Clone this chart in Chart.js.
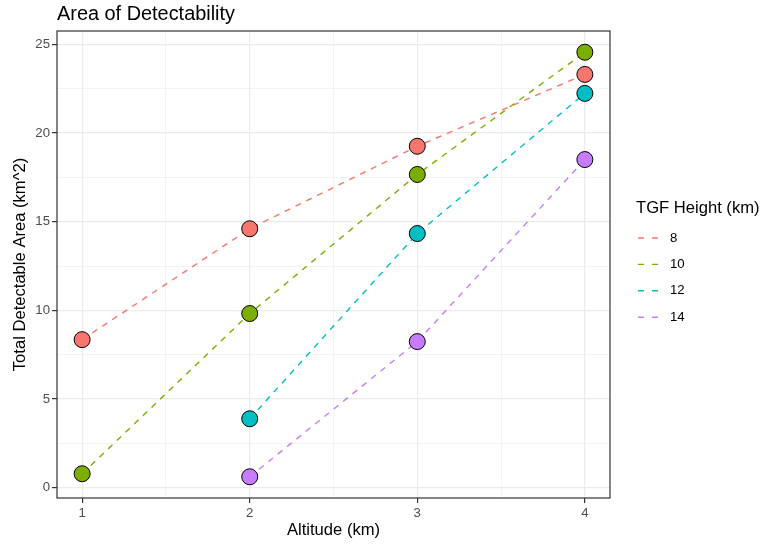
<!DOCTYPE html>
<html>
<head>
<meta charset="utf-8">
<script src="https://cdn.jsdelivr.net/npm/chart.js@4.4.1/dist/chart.umd.min.js"></script>
<style>
  html, body { margin: 0; padding: 0; background: #fff; }
  #chart { display: block; }
</style>
</head>
<body>
<canvas id="chart" width="763" height="544"></canvas>
<script>
// altitude of the detector (km) and total detectable area (km^2) per TGF source height
const altitudes = [1, 2, 3, 4];
const tgfHeights = ['8', '10', '12', '14'];
const area8  = [8.35, 14.6, 19.25, 23.3];
const area10 = [0.79, 9.82, 17.66, 24.55];
const area12 = [null, 3.89, 14.33, 22.23];
const area14 = [null, 0.62, 8.24, 18.5];
const xTicks = [1, 2, 3, 4];
const yTicks = [0, 5, 10, 15, 20, 25];

const seriesColors = ['#F8766D', '#7CAE00', '#00BFC4', '#C77CFF'];
const fontFamily = '"Liberation Sans", Arial, Helvetica, sans-serif';

const allSeries = [area8, area10, area12, area14];

function toPoints(values) {
    const pts = [];
    values.forEach((v, i) => {
        if (v !== null) pts.push({ x: altitudes[i], y: v });
    });
    return pts;
}

// ggplot style 5% expansion of the data range
function expand(lo, hi) {
    const pad = (hi - lo) * 0.05;
    return [lo - pad, hi + pad];
}
const allY = allSeries.flat().filter(v => v !== null);
const [yMin, yMax] = expand(Math.min(...allY), Math.max(...allY));
const [xMin, xMax] = expand(Math.min(...altitudes), Math.max(...altitudes));

// major ticks plus minor lines half way between them
function withMinor(major) {
    const out = [];
    major.forEach((v, i) => {
        out.push(v);
        if (i < major.length - 1) out.push((v + major[i + 1]) / 2);
    });
    return out;
}

const datasets = allSeries.map((values, i) => ({
    label: tgfHeights[i],
    data: toPoints(values),
    borderColor: seriesColors[i],
    backgroundColor: seriesColors[i],
    borderWidth: 1.4,
    borderDash: [6, 6],
    pointRadius: 8,
    pointHoverRadius: 8,
    pointBackgroundColor: seriesColors[i],
    pointBorderColor: '#000',
    pointBorderWidth: 1,
    tension: 0,
    fill: false
}));

function gridOptions(major) {
    return {
        color: ctx => '#EBEBEB',
        lineWidth: ctx => major.includes(ctx.tick.value) ? 1.2 : 0.6,
        tickColor: ctx => major.includes(ctx.tick.value) ? '#333333' : 'rgba(0,0,0,0)',
        tickLength: 5,
        tickWidth: 1.2,
        drawTicks: true
    };
}

// title, panel border, axis titles and legend
const decorations = {
    id: 'decorations',
    afterDraw(chart) {
        const { ctx, chartArea } = chart;
        const { left, right, top, bottom } = chartArea;
        ctx.save();

        ctx.strokeStyle = '#333333';
        ctx.lineWidth = 1.2;
        ctx.setLineDash([]);
        ctx.strokeRect(left, top, right - left, bottom - top);

        ctx.fillStyle = '#000';
        ctx.font = '19.9px ' + fontFamily;
        ctx.textAlign = 'left';
        ctx.textBaseline = 'alphabetic';
        ctx.fillText('Area of Detectability', left, 20);

        ctx.font = '16.6px ' + fontFamily;
        ctx.textAlign = 'center';
        ctx.textBaseline = 'middle';
        ctx.fillText('Altitude (km)', (left + right) / 2, 530);

        ctx.save();
        ctx.translate(20, (top + bottom) / 2);
        ctx.rotate(-Math.PI / 2);
        ctx.fillText('Total Detectable Area (km^2)', 0, 0);
        ctx.restore();

        // legend
        const lx = right + 26;
        ctx.textAlign = 'left';
        ctx.fillText('TGF Height (km)', lx, 208);
        ctx.font = '13.2px ' + fontFamily;
        chart.data.datasets.forEach((ds, i) => {
            const y = 238 + i * 26.4;
            ctx.strokeStyle = ds.borderColor;
            ctx.lineWidth = 1.4;
            ctx.setLineDash([6, 8]);
            ctx.beginPath();
            ctx.moveTo(lx + 2, y);
            ctx.lineTo(lx + 22.5, y);
            ctx.stroke();
            ctx.setLineDash([]);
            ctx.fillStyle = '#000';
            ctx.fillText(ds.label, lx + 34, y);
        });
        ctx.restore();
    }
};

new Chart(document.getElementById('chart'), {
    type: 'line',
    data: { datasets: datasets },
    options: {
        responsive: false,
        animation: false,
        devicePixelRatio: 1,
        layout: { padding: { top: 31, right: 153, bottom: 0, left: 0 } },
        plugins: {
            legend: { display: false },
            title: { display: false },
            tooltip: { enabled: false }
        },
        scales: {
            x: {
                type: 'linear',
                min: xMin,
                max: xMax,
                afterBuildTicks: scale => {
                    scale.ticks = withMinor(xTicks).map(v => ({ value: v }));
                },
                afterFit: scale => { scale.height = 46; },
                border: { display: false },
                grid: gridOptions(xTicks),
                ticks: {
                    autoSkip: false,
                    maxRotation: 0,
                    padding: 2,
                    color: '#4D4D4D',
                    font: { family: fontFamily, size: 13.2 },
                    callback: v => xTicks.includes(v) ? String(v) : ''
                }
            },
            y: {
                type: 'linear',
                min: yMin,
                max: yMax,
                afterBuildTicks: scale => {
                    scale.ticks = withMinor(yTicks).map(v => ({ value: v }));
                },
                afterFit: scale => { scale.width = 57; },
                border: { display: false },
                grid: gridOptions(yTicks),
                ticks: {
                    autoSkip: false,
                    padding: 2,
                    color: '#4D4D4D',
                    font: { family: fontFamily, size: 13.2 },
                    callback: v => yTicks.includes(v) ? String(v) : ''
                }
            }
        }
    },
    plugins: [decorations]
});
</script>
</body>
</html>
